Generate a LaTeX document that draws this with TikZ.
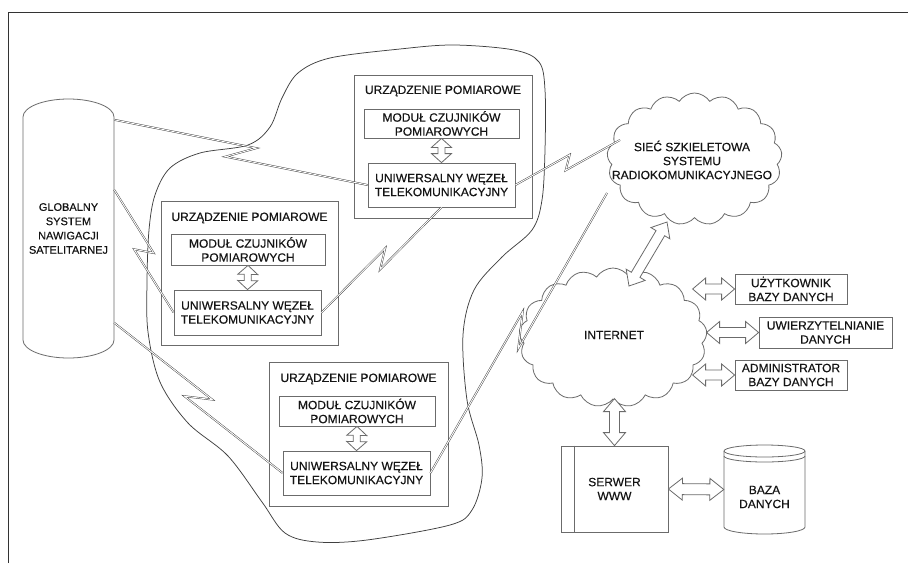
\documentclass[tikz,border=0pt]{standalone}
\usepackage{fontspec}
\setmainfont[FakeBold=0.35]{Liberation Sans}
\usetikzlibrary{calc,shapes.symbols}
\definecolor{linec}{gray}{0.42}
\definecolor{darkc}{gray}{0.25}
\definecolor{textc}{gray}{0.08}
\tikzset{
  box/.style={draw=linec, line width=0.8pt, rectangle, inner sep=0pt, align=center},
  lbl/.style={inner sep=0pt, align=center},
  shapeline/.style={draw=linec, line width=0.8pt},
  cloudbox/.style={cloud, draw=linec, line width=0.8pt, cloud puffs=17, cloud puff arc=115, cloud ignores aspect, inner sep=0pt},
  hollow/.style n args={3}{draw=linec, line width=0.8pt, fill=white, line join=miter, to path={
    -- ($(\tikztostart)!#3!(\tikztotarget)!#1!90:(\tikztotarget)$)
    -- ($(\tikztostart)!#3!(\tikztotarget)!#2!90:(\tikztotarget)$)
    -- ($(\tikztotarget)!#3!(\tikztostart)!#2!-90:(\tikztostart)$)
    -- ($(\tikztotarget)!#3!(\tikztostart)!#1!-90:(\tikztostart)$)
    -- (\tikztotarget)
    -- ($(\tikztotarget)!#3!(\tikztostart)!#1!90:(\tikztostart)$)
    -- ($(\tikztotarget)!#3!(\tikztostart)!#2!90:(\tikztostart)$)
    -- ($(\tikztostart)!#3!(\tikztotarget)!#2!-90:(\tikztotarget)$)
    -- ($(\tikztostart)!#3!(\tikztotarget)!#1!-90:(\tikztotarget)$)
    -- cycle}},
  bolt/.style n args={3}{draw=darkc, line width=0.45pt, double=white, double distance=0.9pt, line join=miter, to path={
    -- ($(\tikztostart)!#1!(\tikztotarget)!#2!(\tikztotarget)!#3!90:(\tikztotarget)$)
    -- ($(\tikztostart)!#1!(\tikztotarget)!-#2!(\tikztotarget)!#3!-90:(\tikztotarget)$)
    -- (\tikztotarget)}}
}
\begin{document}
\begin{tikzpicture}[x=1pt,y=-1pt,font=\fontsize{12}{14}\selectfont,text=textc]
\useasboundingbox (0,0) rectangle (908,563);
\fill[white] (0,0) rectangle (908,563);
% frame
\draw[black!80, line width=1pt] (8,563) -- (8,12) -- (908,12);

% big area outline
\draw[darkc, line width=0.75pt] plot[smooth cycle, tension=0.55] coordinates {
 (454,45) (514,50) (539,62) (545,90) (545,150) (542,200) (532,230) (502,257)
 (474,290) (463,335) (467,400) (479,445) (482,478) (472,510) (450,525)
 (367,540) (317,542) (285,533) (262,502) (228,456) (188,423) (160,382)
 (148,332) (147,282) (149,230) (155,195) (170,168) (200,153) (248,145)
 (270,127) (282,98) (298,73) (330,58) (400,49)};

% GNSS cylinder
\draw[shapeline] (23,340) -- (23,117)
  arc[start angle=180, end angle=0, x radius=45.5pt, y radius=18pt] -- (114,340)
  arc[start angle=0, end angle=-180, x radius=45.5pt, y radius=18pt] -- cycle;
\node[lbl, minimum width=91pt, minimum height=259pt, font=\fontsize{11}{14.3}\selectfont] (gnss) at (68.5,228.5)
  {GLOBALNY\\SYSTEM\\NAWIGACJI\\SATELITARNEJ};

% device 1
\node[box, minimum width=178pt, minimum height=143pt] (dev1) at (443,146.5) {};
\node[lbl] (dev1t) at (443,91) {URZĄDZENIE POMIAROWE};
\node[box, minimum width=155pt, minimum height=29pt] (mod1) at (441.5,123.5) {MODUŁ CZUJNIKÓW\\POMIAROWYCH};
\node[box, minimum width=147pt, minimum height=44pt] (tel1) at (441.5,185) {UNIWERSALNY WĘZEŁ\\TELEKOMUNIKACYJNY};
% device 2
\node[box, minimum width=177pt, minimum height=144pt] (dev2) at (249.5,273) {};
\node[lbl] (dev2t) at (249.5,218) {URZĄDZENIE POMIAROWE};
\node[box, minimum width=154pt, minimum height=31pt] (mod2) at (248,249.5) {MODUŁ CZUJNIKÓW\\POMIAROWYCH};
\node[box, minimum width=147pt, minimum height=45pt] (tel2) at (247.5,312.5) {UNIWERSALNY WĘZEŁ\\TELEKOMUNIKACYJNY};
% device 3
\node[box, minimum width=179pt, minimum height=144pt] (dev3) at (358.5,434) {};
\node[lbl] (dev3t) at (358.5,379) {URZĄDZENIE POMIAROWE};
\node[box, minimum width=156pt, minimum height=30pt] (mod3) at (357,411) {MODUŁ CZUJNIKÓW\\POMIAROWYCH};
\node[box, minimum width=147pt, minimum height=44pt] (tel3) at (356.5,473) {UNIWERSALNY WĘZEŁ\\TELEKOMUNIKACYJNY};

\draw[hollow={10pt}{3.5pt}{9pt}] (mod1.south) to (tel1.north);
\draw[hollow={10pt}{3.5pt}{9pt}] (mod2.south) to (tel2.north);
\draw[hollow={10pt}{3.5pt}{9pt}] (mod3.south) to (tel3.north);

% clouds
\node[cloudbox, minimum width=175pt, minimum height=132pt] (net1) at (694.5,159) {};
\node[lbl] (net1t) at (692,160) {SIEĆ SZKIELETOWA\\SYSTEMU\\RADIOKOMUNIKACYJNEGO};
\node[cloudbox, minimum width=188pt, minimum height=139pt] (net2) at (613,337.5) {};
\node[lbl] (net2t) at (614,335) {INTERNET};
\coordinate (c1a) at (620,140);
\coordinate (c1b) at (607,193);
\coordinate (c1s) at (667,222);
\coordinate (c2n) at (629,286);

% radio links
\draw[bolt={0.5}{14pt}{8pt}] ([yshift=-21pt]gnss.north east) to (tel1.west);
\draw[bolt={0.5}{6pt}{8pt}] ([yshift=-91pt]gnss.north east) to (tel2.west);
\draw[bolt={0.5}{11.5pt}{8pt}] ([yshift=-224pt]gnss.north east) to (tel3.west);
\draw[bolt={0.5}{5pt}{6.4pt}] (tel1.east) to (c1a);
\draw[bolt={0.51}{9pt}{6.3pt}] (tel2.east) to (tel1.south);
\draw[bolt={0.51}{17pt}{8pt}] (tel3.east) to (c1b);

% right side boxes
\node[box, minimum width=112pt, minimum height=30pt] (user) at (791,289) {UŻYTKOWNIK\\BAZY DANYCH};
\node[box, minimum width=133pt, minimum height=31pt] (auth) at (825.5,332.5) {UWIERZYTELNIANIE\\DANYCH};
\node[box, minimum width=112pt, minimum height=30pt] (admin) at (791,375) {ADMINISTRATOR\\BAZY DANYCH};

% server
\node[box, minimum width=107pt, minimum height=86pt] (serwer) at (614.5,489) {SERWER\\WWW};
\draw[shapeline] ([xshift=14pt]serwer.north west) -- ([xshift=14pt]serwer.south west);

% database cylinder
\draw[shapeline] (724,527) -- (724,451)
  arc[start angle=180, end angle=0, x radius=40.5pt, y radius=6pt] -- (805,527)
  arc[start angle=0, end angle=-180, x radius=40.5pt, y radius=7pt] -- cycle;
\draw[shapeline] (724,451) arc[start angle=180, end angle=360, x radius=40.5pt, y radius=6pt];
\draw[shapeline] (724,456) arc[start angle=180, end angle=360, x radius=40.5pt, y radius=6pt];
\node[lbl, minimum width=81pt, minimum height=89pt] (baza) at (764.5,489.5) {};
\node[lbl] (bazat) at (764.5,497) {BAZA\\DANYCH};

% hollow double arrows
\draw[hollow={11pt}{5pt}{13pt}] (c2n) to (c1s);
\draw[hollow={11pt}{5pt}{13pt}] ([xshift=-42pt]user.west) to (user.west);
\draw[hollow={11pt}{5pt}{13pt}] ([xshift=-52pt]auth.west) to (auth.west);
\draw[hollow={11pt}{5pt}{13pt}] ([xshift=-42pt]admin.west) to (admin.west);
\draw[hollow={11pt}{5pt}{13pt}] ($(serwer.north)+(0,-47)$) to (serwer.north);
\draw[hollow={11pt}{5.5pt}{14pt}] (serwer.east) to (baza.west);
\end{tikzpicture}
\end{document}
